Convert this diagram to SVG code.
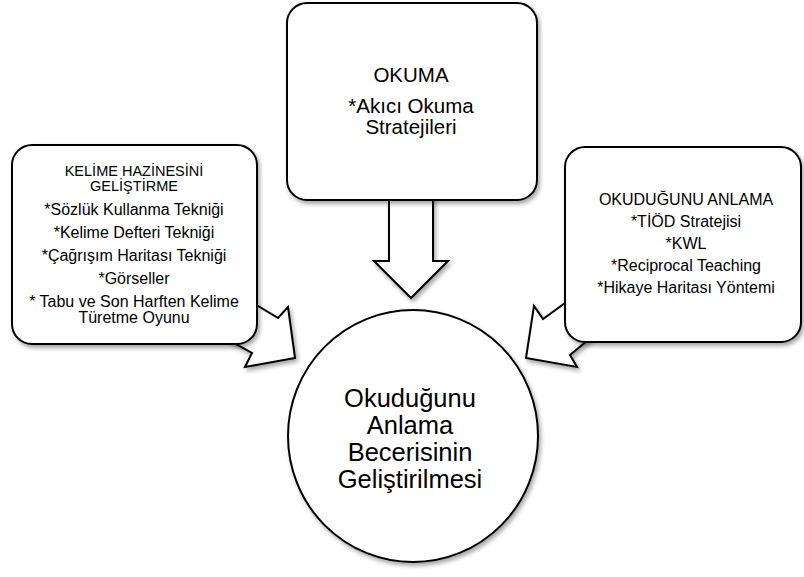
<svg xmlns="http://www.w3.org/2000/svg" width="804" height="577" viewBox="0 0 804 577">
<style>
.shape{fill:#fff;stroke:#000;stroke-width:2;stroke-linejoin:miter;filter:url(#sh)}
text{font-family:"Liberation Sans",Arial,sans-serif;fill:#000;text-anchor:middle}
.s16{font-size:16px}
.s15{font-size:14.5px}
.s20{font-size:20.5px}
.s25{font-size:25.5px}
</style>
<defs>
<filter id="sh" x="-10%" y="-10%" width="125%" height="125%">
<feDropShadow dx="2" dy="3" stdDeviation="2" flood-color="#000" flood-opacity="0.35"/>
</filter>
</defs>
<rect width="804" height="577" fill="#fff"/>
<g id="connectors">
<polygon class="shape" points="389,195 433,195 433,261 448,261 411,298 374,261 389,261"/>
<polygon class="shape" points="245,298 278,318 288,307 295,358 245,367 252,353 225,338"/>
<polygon class="shape" points="576,295 543,319 534,306 526,358 577,367 570,355 594,335"/>
</g>
<g id="okuma">
<rect class="shape" x="287" y="3" width="250" height="197" rx="20"/>
<text class="s20" x="411" y="82">OKUMA</text>
<text class="s20" x="411" y="113">*Akıcı Okuma</text>
<text class="s20" x="411" y="134">Stratejileri</text>
</g>
<g id="kelime">
<rect class="shape" x="12" y="145" width="245" height="199" rx="20"/>
<text class="s15" x="134" y="176">KELİME HAZİNESİNİ</text>
<text class="s15" x="134" y="191">GELİŞTİRME</text>
<text class="s16" x="134" y="215">*Sözlük Kullanma Tekniği</text>
<text class="s16" x="134" y="238">*Kelime Defteri Tekniği</text>
<text class="s16" x="134" y="261">*Çağrışım Haritası Tekniği</text>
<text class="s16" x="134" y="284">*Görseller</text>
<text class="s16" x="134" y="307">* Tabu ve Son Harften Kelime</text>
<text class="s16" x="134" y="323">Türetme Oyunu</text>
</g>
<g id="okudugunu">
<rect class="shape" x="565" y="147" width="236" height="195" rx="20"/>
<text class="s16" x="686" y="205">OKUDUĞUNU ANLAMA</text>
<text class="s16" x="686" y="227">*TİÖD Stratejisi</text>
<text class="s16" x="686" y="249">*KWL</text>
<text class="s16" x="686" y="271">*Reciprocal Teaching</text>
<text class="s16" x="686" y="293">*Hikaye Haritası Yöntemi</text>
</g>
<g id="merkez">
<ellipse class="shape" cx="413" cy="436" rx="125" ry="126"/>
<text class="s25" x="410" y="407">Okuduğunu</text>
<text class="s25" x="410" y="434">Anlama</text>
<text class="s25" x="410" y="461">Becerisinin</text>
<text class="s25" x="410" y="488">Geliştirilmesi</text>
</g>
</svg>
